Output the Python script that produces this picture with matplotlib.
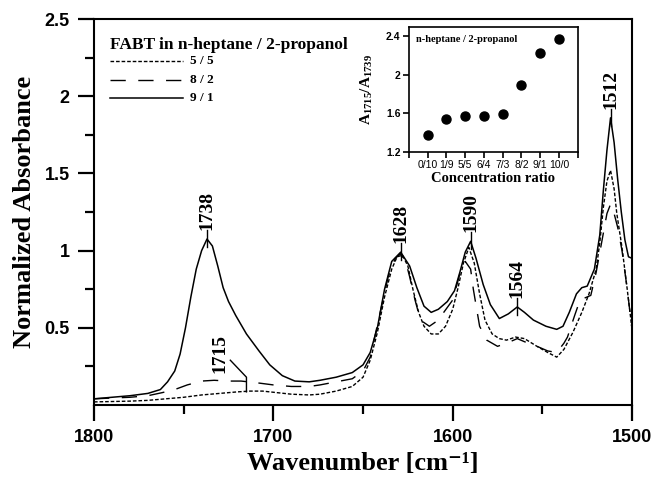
import matplotlib
matplotlib.use("Agg")
import matplotlib.pyplot as plt
from matplotlib.lines import Line2D

plt.rcParams["mathtext.fontset"] = "custom"
plt.rcParams["mathtext.rm"] = "Liberation Serif"
plt.rcParams["mathtext.bf"] = "Liberation Serif:bold"
plt.rcParams["mathtext.it"] = "Liberation Serif:italic"

# ---------------- data ----------------
wn_91 = [1800, 1790, 1780, 1770, 1763, 1759, 1755, 1752, 1749, 1746, 1743, 1740, 1737, 1734, 1731,
         1728, 1725, 1721, 1715, 1708, 1702, 1695, 1688, 1680, 1674, 1665, 1656, 1650, 1646, 1642,
         1638, 1634, 1629, 1624, 1620, 1616, 1612, 1608, 1603, 1599, 1596, 1593, 1590, 1587, 1583,
         1579, 1574, 1569, 1564, 1560, 1555, 1548, 1542, 1538.5, 1535, 1531, 1528, 1525, 1521, 1518,
         1516, 1514, 1512, 1510, 1508, 1506, 1504, 1502, 1500]
ab_91 = [0.04, 0.05, 0.06, 0.075, 0.10, 0.15, 0.22, 0.33, 0.50, 0.70, 0.88, 1.00, 1.075, 1.03, 0.90,
         0.76, 0.67, 0.58, 0.46, 0.35, 0.26, 0.19, 0.155, 0.15, 0.16, 0.18, 0.21, 0.26, 0.34, 0.50,
         0.75, 0.93, 0.99, 0.90, 0.76, 0.64, 0.60, 0.62, 0.67, 0.74, 0.86, 0.99, 1.06, 0.95, 0.78,
         0.65, 0.56, 0.59, 0.635, 0.60, 0.55, 0.51, 0.49, 0.51, 0.60, 0.72, 0.76, 0.77, 0.88, 1.10,
         1.39, 1.65, 1.86, 1.70, 1.46, 1.25, 1.07, 0.96, 0.95]

wn_55 = [1800, 1780, 1770, 1760, 1750, 1740, 1730, 1720, 1713, 1706, 1698, 1690, 1680, 1674, 1665,
         1656, 1650, 1646, 1642, 1638, 1634, 1631, 1628, 1625, 1622, 1619, 1616, 1612, 1608, 1604,
         1600, 1597, 1594, 1591, 1588, 1585, 1582, 1578, 1574, 1570, 1565, 1560, 1553, 1547, 1542,
         1538, 1533, 1528, 1524, 1520, 1518, 1516, 1514, 1512, 1510, 1508.5, 1505.6, 1502.8, 1500]
ab_55 = [0.02, 0.025, 0.03, 0.04, 0.05, 0.065, 0.075, 0.085, 0.09, 0.09, 0.08, 0.07, 0.065, 0.07, 0.09,
         0.12, 0.18, 0.29, 0.47, 0.70, 0.88, 0.96, 0.97, 0.90, 0.74, 0.60, 0.51, 0.46, 0.46, 0.51,
         0.62, 0.76, 0.92, 1.02, 0.92, 0.72, 0.55, 0.46, 0.43, 0.42, 0.44, 0.43, 0.38, 0.34, 0.31,
         0.36, 0.47, 0.60, 0.72, 0.88, 1.05, 1.28, 1.45, 1.52, 1.40, 1.24, 1.02, 0.76, 0.49]

wn_82 = [1800, 1790, 1780, 1770, 1762, 1755, 1748, 1740, 1733, 1725, 1718, 1710, 1700, 1690, 1680,
         1674, 1665, 1656, 1650, 1646, 1641, 1636, 1632, 1629, 1626, 1624, 1621, 1618, 1613, 1608,
         1605, 1600, 1596, 1593, 1590, 1588.5, 1585, 1581, 1575, 1570, 1564, 1560, 1553, 1547, 1542,
         1538, 1536, 1532, 1529, 1523, 1520, 1517, 1514, 1512, 1510, 1508, 1505.6, 1502.8, 1500]
ab_82 = [0.04, 0.045, 0.05, 0.06, 0.08, 0.10, 0.13, 0.155, 0.16, 0.155, 0.155, 0.145, 0.13, 0.12, 0.12,
         0.13, 0.15, 0.17, 0.22, 0.31, 0.57, 0.83, 0.95, 0.98, 0.92, 0.83, 0.68, 0.55, 0.51, 0.55,
         0.60, 0.68, 0.85, 0.93, 0.88, 0.75, 0.51, 0.42, 0.38, 0.40, 0.43, 0.41, 0.38, 0.35, 0.34,
         0.40, 0.44, 0.58, 0.68, 0.71, 0.86, 1.05, 1.24, 1.30, 1.24, 1.15, 1.00, 0.76, 0.49]

ratio_labels = ["0/10", "1/9", "5/5", "6/4", "7/3", "8/2", "9/1", "10/0"]
ratio_values = [1.38, 1.54, 1.57, 1.57, 1.59, 1.89, 2.23, 2.37]

legend_labels = ["5 / 5", "8 / 2", "9 / 1"]

peak_labels = ["1738", "1628", "1590", "1564", "1512"]
peak_pos = [1737, 1629, 1590, 1564, 1512]
peak_y = [1.075, 0.99, 1.06, 0.635, 1.86]

# ---------------- style ----------------
SERIF = ["Liberation Serif", "DejaVu Serif"]
SANS = ["Liberation Sans", "DejaVu Sans"]
short_dash = (0, (2.6, 1.4))
long_dash = (0, (11, 9))

fig = plt.figure(figsize=(6.52, 4.79), dpi=100)
ax = fig.add_axes([0.1442, 0.1545, 0.8252, 0.8058])

ax.plot(wn_55, ab_55, color="black", lw=1.0, linestyle=short_dash)
ax.plot(wn_82, ab_82, color="black", lw=1.0, linestyle=long_dash)
ax.plot(wn_91, ab_91, color="black", lw=1.1, linestyle="-")

ax.set_xlim(1800, 1500)
ax.set_ylim(0, 2.5)
ax.set_xticks([1800, 1700, 1600, 1500])
ax.set_xticklabels(["1800", "1700", "1600", "1500"])
ax.set_xticks([1750, 1650, 1550], minor=True)
ax.set_yticks([0.5, 1, 1.5, 2, 2.5])
ax.set_yticklabels(["0.5", "1", "1.5", "2", "2.5"])
ax.set_yticks([0.25, 0.75, 1.25, 1.75, 2.25], minor=True)
ax.tick_params(which="major", direction="out", length=11.5, width=1.6, pad=6)
ax.tick_params(which="minor", direction="out", length=6.5, width=1.6)
for lab in ax.get_xticklabels() + ax.get_yticklabels():
    lab.set_fontfamily(SANS)
    lab.set_fontweight("bold")
    lab.set_fontsize(13)
for s in ax.spines.values():
    s.set_linewidth(1.5)

ax.set_xlabel("Wavenumber [cm\u207b\u00b9]", fontfamily=SERIF, fontweight="bold", fontsize=19, labelpad=4)
ax.set_ylabel("Normalized Absorbance", fontfamily=SERIF, fontweight="bold", fontsize=19, labelpad=6)

# peak labels
for lab, xp, yp in zip(peak_labels, peak_pos, peak_y):
    top = yp + 0.06
    ax.plot([xp, xp], [yp - 0.05, top], color="black", lw=1.0)
    ax.text(xp, top, lab, rotation=90, ha="center", va="bottom",
            fontfamily=SERIF, fontweight="bold", fontsize=14)

# 1715 label with leader line
ax.plot([1724, 1715, 1715], [0.29, 0.18, 0.085], color="black", lw=1.0)
ax.text(1730, 0.21, "1715", rotation=90, ha="center", va="bottom",
        fontfamily=SERIF, fontweight="bold", fontsize=14)

# legend (manual)
ax.text(0.03, 0.933, "FABT in n-heptane / 2-propanol", transform=ax.transAxes,
        ha="left", va="center", fontfamily=SERIF, fontweight="bold", fontsize=12.5)
styles = [(short_dash, 1.0), (long_dash, 1.0), ("-", 1.1)]
ys = [0.891, 0.842, 0.795]
for (ls, lw), yy, lab in zip(styles, ys, legend_labels):
    ax.add_line(Line2D([0.03, 0.166], [yy, yy], transform=ax.transAxes, color="black", lw=lw, linestyle=ls))
    ax.text(0.178, yy, lab, transform=ax.transAxes, ha="left", va="center",
            fontfamily=SERIF, fontweight="bold", fontsize=9.5)

# ---------------- inset ----------------
axi = fig.add_axes([0.627, 0.683, 0.259, 0.261])
xpos = list(range(1, len(ratio_labels) + 1))
axi.plot(xpos, ratio_values, "o", color="black", ms=6.5, linestyle="none")
axi.set_xlim(0, 9)
axi.set_ylim(1.2, 2.5)
axi.set_xticks(xpos)
axi.set_xticklabels(ratio_labels)
axi.set_xticks([0, 9], minor=True)
axi.set_yticks([1.2, 1.6, 2.0, 2.4])
axi.set_yticklabels(["1.2", "1.6", "2", "2.4"])
axi.tick_params(which="both", direction="out", length=4, width=1.2, pad=2)
for lab in axi.get_xticklabels():
    lab.set_fontfamily(SANS)
    lab.set_fontsize(7.5)
for lab in axi.get_yticklabels():
    lab.set_fontfamily(SANS)
    lab.set_fontweight("bold")
    lab.set_fontsize(7.5)
for s in axi.spines.values():
    s.set_linewidth(1.2)
axi.set_xlabel("Concentration ratio", fontfamily=SERIF, fontweight="bold", fontsize=10.5, labelpad=1)
axi.set_ylabel("A$_{\\mathbf{1715}}$/A$_{\\mathbf{1739}}$", fontfamily=SERIF, fontweight="bold",
               fontsize=11, labelpad=8)
axi.text(0.04, 0.9, "n-heptane / 2-propanol", transform=axi.transAxes, ha="left", va="center",
         fontfamily=SERIF, fontweight="bold", fontsize=7.5)

fig.savefig("out.png", dpi=100)
